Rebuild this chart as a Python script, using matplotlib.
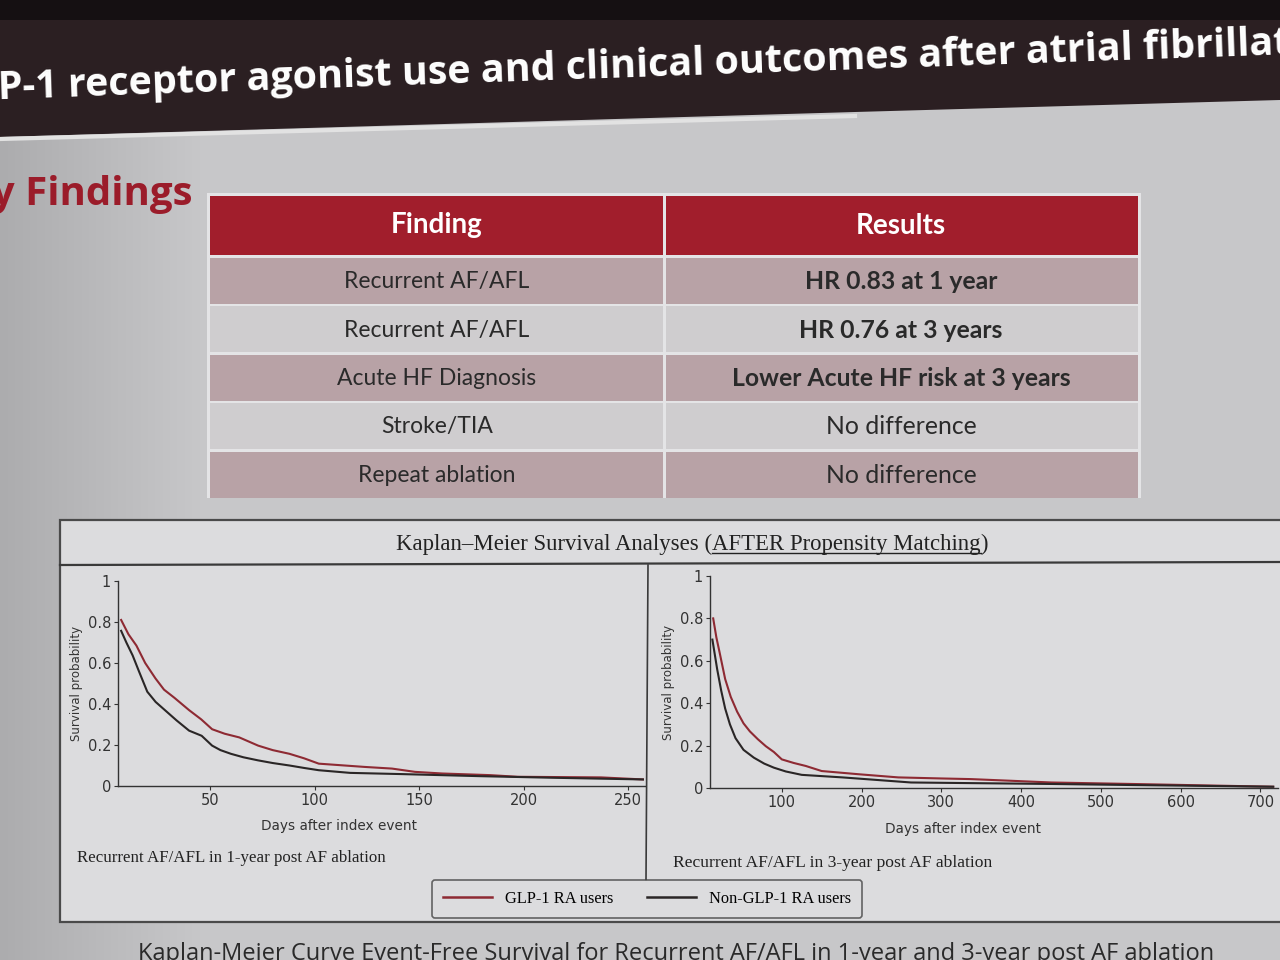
import matplotlib
matplotlib.use("Agg")
import matplotlib.pyplot as plt
from matplotlib.patches import Rectangle, Polygon
from matplotlib.lines import Line2D
import numpy as np

# ---- data ----
slide_title = "GLP-1 receptor agonist use and clinical outcomes after atrial fibrillation ablation"
section = "Key Findings"
col_headers = ["Finding", "Results"]
findings = ["Recurrent AF/AFL", "Recurrent AF/AFL", "Acute HF Diagnosis", "Stroke/TIA", "Repeat ablation"]
results = ["HR 0.83 at 1 year", "HR 0.76 at 3 years", "Lower Acute HF risk at 3 years",
           "No difference", "No difference"]
results_bold = [True, True, True, False, False]

# 1-year KM curves
days_1y_glp = [7.5, 11, 14.8, 19, 23.9, 28, 33, 40, 45.8, 51, 57, 64, 73, 80, 88, 95, 102,
               124, 137, 148, 161, 184, 197, 237, 257]
surv_1y_glp = [0.81, 0.74, 0.685, 0.60, 0.525, 0.47, 0.43, 0.37, 0.325, 0.277, 0.255, 0.237,
               0.197, 0.175, 0.157, 0.135, 0.109, 0.093, 0.085, 0.069, 0.061, 0.053, 0.045,
               0.042, 0.032]
days_1y_non = [7.5, 10, 13, 16, 20, 24, 29, 34, 40, 46, 51, 55, 60, 66, 73, 80, 88, 95, 102,
               117, 142, 179, 215, 257]
surv_1y_non = [0.757, 0.70, 0.637, 0.56, 0.46, 0.41, 0.365, 0.32, 0.27, 0.245, 0.197, 0.175,
               0.157, 0.14, 0.125, 0.112, 0.10, 0.088, 0.077, 0.064, 0.058, 0.048, 0.04, 0.032]

# 3-year KM curves
days_3y_glp = [14, 18, 22, 29, 36, 44, 52, 60, 70, 80, 90, 100, 115, 130, 150, 196, 246, 300,
               337, 388, 438, 539, 716]
surv_3y_glp = [0.8, 0.71, 0.64, 0.514, 0.43, 0.36, 0.305, 0.267, 0.23, 0.197, 0.17, 0.135,
               0.118, 0.104, 0.08, 0.065, 0.05, 0.045, 0.042, 0.034, 0.026, 0.019, 0.006]
days_3y_non = [13, 16, 19, 24, 29, 35, 42, 52, 65, 78, 90, 105, 125, 176, 262, 363, 438, 539, 716]
surv_3y_non = [0.70, 0.63, 0.56, 0.46, 0.375, 0.30, 0.235, 0.18, 0.143, 0.115, 0.096, 0.078,
               0.062, 0.05, 0.026, 0.022, 0.019, 0.014, 0.006]

xticks_1y = [50, 100, 150, 200, 250]
xticks_3y = [100, 200, 300, 400, 500, 600, 700]
yticks = [0, 0.2, 0.4, 0.6, 0.8, 1]
ytick_labels = ["0", "0.2", "0.4", "0.6", "0.8", "1"]
legend_labels = ["GLP-1 RA users", "Non-GLP-1 RA users"]

# ---- colours ----
slide_bg = "#c7c7c9"
bar_dark = "#2b1f22"
red_head = "#a11e2c"
row_mauve = "#b8a2a6"
row_light = "#cfcdcf"
panel_bg = "#dcdcde"
red_line = "#8e2a33"
black_line = "#2a2626"
txt_dark = "#2a2a2a"

W, H = 1280, 960
fig = plt.figure(figsize=(12.8, 9.6), dpi=100)
fig.patch.set_facecolor(slide_bg)

bg = fig.add_axes([0, 0, 1, 1])
bg.set_xlim(0, W)
bg.set_ylim(H, 0)
bg.axis("off")

# darker left edge of the screen
grad = np.linspace(0, 1, 256).reshape(1, -1)
bg.imshow(grad, extent=(0, 200, H, 120), cmap=matplotlib.colors.LinearSegmentedColormap.from_list(
    "edge", ["#acacae", slide_bg]), aspect="auto", zorder=0)

# title band
bg.add_patch(Polygon([(0, 0), (W, 0), (W, 100), (855, 112), (0, 137)], closed=True,
                     facecolor=bar_dark, edgecolor="none", zorder=1))
bg.add_patch(Rectangle((0, 0), W, 20, facecolor="#151012", edgecolor="none", zorder=1))
bg.plot([0, 855], [139, 116], color="#e2e2e2", lw=3, zorder=1)
bg.text(-52, 101, slide_title, color="white", fontsize=28.4, fontweight="bold",
        family="Open Sans", ha="left", va="baseline", rotation=2.0,
        rotation_mode="anchor", zorder=2)

bg.text(192, 205, section, color="#9b1c2a", fontsize=29, fontweight="bold",
        family="Open Sans", ha="right", va="baseline", zorder=2)

# ---- findings table ----
tx0, tx1, tsplit = 210, 1138, 664
head_top, head_bot = 196, 255
row_h, gap = 46, 2.5
bg.add_patch(Rectangle((tx0 - 3, head_top - 3), tx1 - tx0 + 6, 305, facecolor="#e4e4e6",
                       edgecolor="none", zorder=1))
bg.add_patch(Rectangle((tx0, head_top), tsplit - tx0 - 1.5, head_bot - head_top,
                       facecolor=red_head, edgecolor="none", zorder=2))
bg.add_patch(Rectangle((tsplit + 1.5, head_top), tx1 - tsplit - 1.5, head_bot - head_top,
                       facecolor=red_head, edgecolor="none", zorder=2))
for j, h in enumerate(col_headers):
    cx = (tx0 + tsplit) / 2 if j == 0 else (tsplit + tx1) / 2
    bg.text(cx, (head_top + head_bot) / 2, h, color="white", fontsize=20, fontweight="bold",
            family="Lato", ha="center", va="center", zorder=3)

for i, (f, r) in enumerate(zip(findings, results)):
    y0 = head_bot + gap + i * (row_h + gap)
    c = row_mauve if i % 2 == 0 else row_light
    bg.add_patch(Rectangle((tx0, y0), tsplit - tx0 - 1.5, row_h, facecolor=c,
                           edgecolor="none", zorder=2))
    bg.add_patch(Rectangle((tsplit + 1.5, y0), tx1 - tsplit - 1.5, row_h, facecolor=c,
                           edgecolor="none", zorder=2))
    bg.text((tx0 + tsplit) / 2, y0 + row_h / 2 + 1, f, color=txt_dark, fontsize=16.5,
            family="Lato", ha="center", va="center", zorder=3)
    bg.text((tsplit + tx1) / 2, y0 + row_h / 2 + 1, r, color=txt_dark, fontsize=17.8,
            family="Lato", fontweight="bold" if results_bold[i] else "normal",
            ha="center", va="center", zorder=3)

# ---- KM figure panel ----
px0, py0, py1 = 60, 520, 922
bg.add_patch(Rectangle((px0, py0), W + 10 - px0, py1 - py0, facecolor=panel_bg,
                       edgecolor="#4a4a4a", lw=1.6, zorder=1))
bg.plot([px0, W], [565, 562], color="#3a3a3a", lw=1.6, zorder=2)
bg.plot([648, 646], [565, 880], color="#3a3a3a", lw=1.2, zorder=2)

# title with underlined part
fig.canvas.draw()
rend = fig.canvas.get_renderer()
parts = ["Kaplan\u2013Meier Survival Analyses (", "AFTER Propensity Matching", ")"]
kw = dict(fontsize=16.4, family="Liberation Serif", color="#222222", va="baseline", zorder=3)
widths = []
for p in parts:
    t = bg.text(0, 0, p, **kw)
    widths.append(t.get_window_extent(rend).width)
    t.remove()
x = 692 - sum(widths) / 2
for k, (p, w) in enumerate(zip(parts, widths)):
    bg.text(x, 550, p, ha="left", **kw)
    if k == 1:
        bg.plot([x, x + w], [553, 553], color="#222222", lw=1.0, zorder=3)
    x += w


def km_axes(left, right, top, bottom, xmin, xmax, xlab_pos):
    ax = fig.add_axes([left / W, 1 - bottom / H, (right - left) / W, (bottom - top) / H])
    ax.set_facecolor("none")
    ax.set_xlim(xmin, xmax)
    ax.set_ylim(0, 1)
    for s in ("top", "right"):
        ax.spines[s].set_visible(False)
    for s in ("left", "bottom"):
        ax.spines[s].set_color("#333333")
        ax.spines[s].set_linewidth(1.0)
    ax.set_yticks(yticks)
    ax.set_yticklabels(ytick_labels)
    ax.tick_params(colors="#333333", labelsize=10.5, length=3, width=0.8, pad=2)
    ax.set_ylabel("Survival probability", fontsize=8.5, color="#333333", labelpad=3)
    ax.set_xlabel("Days after index event", fontsize=9.8, color="#333333")
    ax.xaxis.set_label_coords(xlab_pos, -0.16)
    return ax


ax1 = km_axes(118, 645, 581, 786, 6, 258, 0.42)
ax1.set_xticks(xticks_1y)
ax1.plot(days_1y_glp, surv_1y_glp, color=red_line, lw=1.5)
ax1.plot(days_1y_non, surv_1y_non, color=black_line, lw=1.5)

ax2 = km_axes(710, 1278, 576, 788, 10, 722, 0.445)
ax2.set_xticks(xticks_3y)
ax2.plot(days_3y_glp, surv_3y_glp, color=red_line, lw=1.5)
ax2.plot(days_3y_non, surv_3y_non, color=black_line, lw=1.5)

bg.text(77, 862, "Recurrent AF/AFL in 1-year post AF ablation", fontsize=12.2,
        family="Liberation Serif", color="#222222", ha="left", va="baseline", zorder=3)
bg.text(673, 867, "Recurrent AF/AFL in 3-year post AF ablation", fontsize=12.6,
        family="Liberation Serif", color="#222222", ha="left", va="baseline", zorder=3)

handles = [Line2D([], [], color=red_line, lw=1.8), Line2D([], [], color=black_line, lw=1.8)]
leg = fig.legend(handles, legend_labels, loc="center", bbox_to_anchor=(647 / W, 1 - 899 / H),
                 ncol=2, frameon=True, fancybox=True, handlelength=3.0, columnspacing=2.0,
                 borderpad=0.7, prop={"family": "Liberation Serif", "size": 11.8})
leg.get_frame().set_facecolor(panel_bg)
leg.get_frame().set_edgecolor("#444444")
leg.get_frame().set_linewidth(1.2)

# caption at bottom (cut by the photo edge)
bg.text(138, 942, "Kaplan-Meier Curve Event-Free Survival for Recurrent AF/AFL in 1-year and 3-year post AF ablation",
        fontsize=17, family="Open Sans", color=txt_dark, ha="left", va="top", zorder=3)

fig.savefig("out.png", dpi=100, facecolor=fig.get_facecolor())
